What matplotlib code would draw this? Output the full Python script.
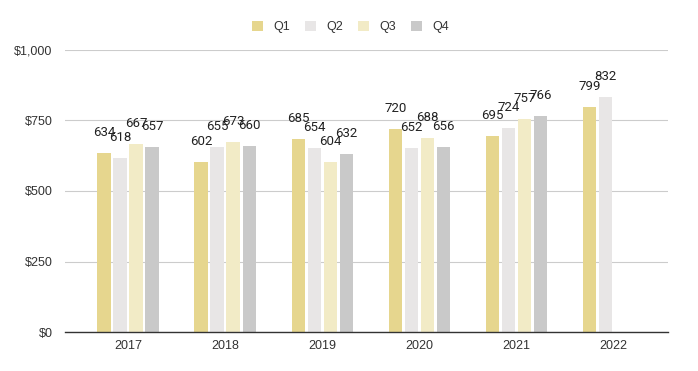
import matplotlib
matplotlib.use("Agg")
import matplotlib.pyplot as plt
import numpy as np
from matplotlib.ticker import FuncFormatter

years = ["2017", "2018", "2019", "2020", "2021", "2022"]
series_names = ["Q1", "Q2", "Q3", "Q4"]
q1 = [634, 602, 685, 720, 695, 799]
q2 = [618, 655, 654, 652, 724, 832]
q3 = [667, 673, 604, 688, 757, None]
q4 = [657, 660, 632, 656, 766, None]
colors = ["#e6d68e", "#e8e6e6", "#f2ebc6", "#c9c9c9"]

plt.rcParams['font.family'] = ['Liberation Sans', 'DejaVu Sans']
fig = plt.figure(figsize=(6.98, 3.71), dpi=100)
ax = fig.add_axes([65/698, 39/371, 603/698, 282/371])

x = np.arange(len(years))
w = 0.139
pitch = 0.165
offsets = (np.arange(4) - 1.5) * pitch
for i, (vals, c, name) in enumerate(zip([q1, q2, q3, q4], colors, series_names)):
    xs = [xi + offsets[i] for xi, v in zip(x, vals) if v is not None]
    vs = [v for v in vals if v is not None]
    ax.bar(xs, vs, width=w, color=c, label=name, zorder=3)
    for xx, v in zip(xs, vs):
        ax.annotate(str(v), (xx, v), xytext=(0, 10), textcoords="offset points",
                    ha="center", va="bottom", fontsize=9.5, color="#222222",
                    family=["Roboto", "DejaVu Sans"], zorder=4)

ax.set_ylim(0, 1000)
ax.set_yticks([0, 250, 500, 750, 1000])
ax.yaxis.set_major_formatter(FuncFormatter(lambda v, p: "${:,.0f}".format(v)))
ax.set_xlim(-0.65, 5.56)
ax.set_xticks(x)
ax.set_xticklabels(years)
ax.grid(axis="y", color="#cccccc", linewidth=0.8, zorder=0)
for s in ["top", "right", "left"]:
    ax.spines[s].set_visible(False)
ax.spines["bottom"].set_color("#333333")
ax.spines["bottom"].set_linewidth(1.0)
ax.spines["bottom"].set_zorder(5)
ax.tick_params(axis="both", length=0, labelsize=9, colors="#333333")
ax.tick_params(axis="x", pad=6)
ax.tick_params(axis="y", pad=9)

leg = fig.legend(loc="upper center", bbox_to_anchor=(0.502, 0.975), ncol=4, frameon=False,
                 fontsize=9, handlelength=0.9, handleheight=0.9, columnspacing=1.2,
                 handletextpad=0.8, labelcolor="#333333")
fig.savefig("out.png", dpi=100)
